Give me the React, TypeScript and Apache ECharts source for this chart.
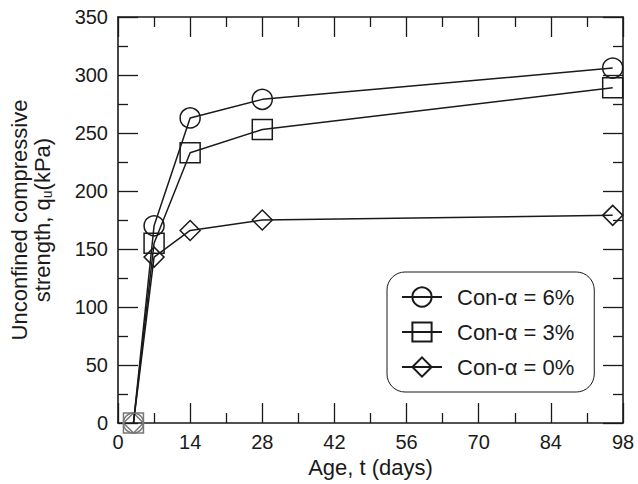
import React, { useEffect, useRef } from "react";
import * as echarts from "echarts";

const ages = [3, 7, 14, 28, 96];
const con6 = [0, 170, 263, 279, 306];
const con3 = [0, 155, 233, 253, 289];
const con0 = [0, 143, 166, 175, 179];
const seriesNames = ["Con-α = 6%", "Con-α = 3%", "Con-α = 0%"];
const symbols = ["circle", "rect", "diamond"];
const xTicks = { min: 0, max: 98, interval: 14 };
const yTicks = { min: 0, max: 350, interval: 50 };

const FONT = "'Liberation Sans', Arial, Helvetica, sans-serif";
const INK = "#1a1a1a";

const axisLine = () => ({ show: true, onZero: false, lineStyle: { color: INK, width: 1.6 } });
const tick = () => ({ show: true, inside: true, length: 20, lineStyle: { color: INK, width: 1.3 } });
const minor = () => ({ show: true, splitNumber: 2, length: 10, lineStyle: { color: INK, width: 1.3 } });

export default function App() {
  const ref = useRef<HTMLDivElement>(null);
  useEffect(() => {
    if (!ref.current) return;
    const chart = echarts.init(ref.current, undefined, { renderer: "svg" });
    const values = [con6, con3, con0];
    const series = values.map((vals, i) => ({
      name: seriesNames[i],
      type: "line",
      symbol: symbols[i],
      symbolSize: 20,
      showAllSymbol: true,
      data: ages.map((a, j) =>
        j === 0
          ? { value: [a, vals[j]], itemStyle: { borderColor: "#777" } }
          : [a, vals[j]]
      ),
      lineStyle: { color: INK, width: 1.5 },
      itemStyle: { color: "rgba(0,0,0,0)", borderColor: INK, borderWidth: 1.5 },
      emphasis: { disabled: true },
      z: 3 - i,
    }));
    chart.setOption({
      animation: false,
      textStyle: { fontFamily: FONT },
      grid: { left: 118, right: 15, top: 17, bottom: 61, containLabel: false },
      legend: {
        orient: "vertical",
        left: 387,
        top: 272,
        padding: [14, 20, 14, 14],
        itemWidth: 40,
        itemHeight: 24,
        itemGap: 13,
        borderColor: INK,
        borderWidth: 1,
        borderRadius: 18,
        backgroundColor: "#fff",
        textStyle: { fontSize: 22, color: INK, fontFamily: FONT, padding: [0, 0, 0, 10] },
        data: seriesNames,
      },
      xAxis: [
        {
          type: "value",
          ...xTicks,
          name: "Age, t (days)",
          nameLocation: "middle",
          nameGap: 33,
          nameTextStyle: { fontSize: 22, color: INK, fontFamily: FONT },
          axisLine: axisLine(),
          axisTick: tick(),
          minorTick: minor(),
          splitLine: { show: false },
          axisLabel: { fontSize: 20, color: INK, margin: 9, fontFamily: FONT },
        },
        {
          type: "value",
          position: "top",
          ...xTicks,
          axisLine: axisLine(),
          axisTick: tick(),
          minorTick: minor(),
          splitLine: { show: false },
          axisLabel: { show: false },
        },
      ],
      yAxis: [
        {
          type: "value",
          position: "left",
          ...yTicks,
          name: "{a|Unconfined compressive}\n{a|strength, q}{s|u}{a|(kPa)}",
          nameLocation: "middle",
          nameGap: 64,
          nameRotate: 90,
          nameTextStyle: {
            color: INK,
            fontFamily: FONT,
            rich: {
              a: { fontSize: 22, lineHeight: 23, color: INK, fontFamily: FONT },
              s: { fontSize: 14, lineHeight: 23, color: INK, fontFamily: FONT, verticalAlign: "bottom" },
            },
          },
          axisLine: axisLine(),
          axisTick: tick(),
          minorTick: minor(),
          splitLine: { show: false },
          axisLabel: { fontSize: 20, color: INK, margin: 10, fontFamily: FONT },
        },
        {
          type: "value",
          position: "right",
          ...yTicks,
          axisLine: axisLine(),
          axisTick: tick(),
          minorTick: minor(),
          splitLine: { show: false },
          axisLabel: { show: false },
        },
      ],
      series,
    });
    return () => chart.dispose();
  }, []);
  return <div ref={ref} style={{ width: 638, height: 484, position: "absolute", left: 0, top: 0 }} />;
}
